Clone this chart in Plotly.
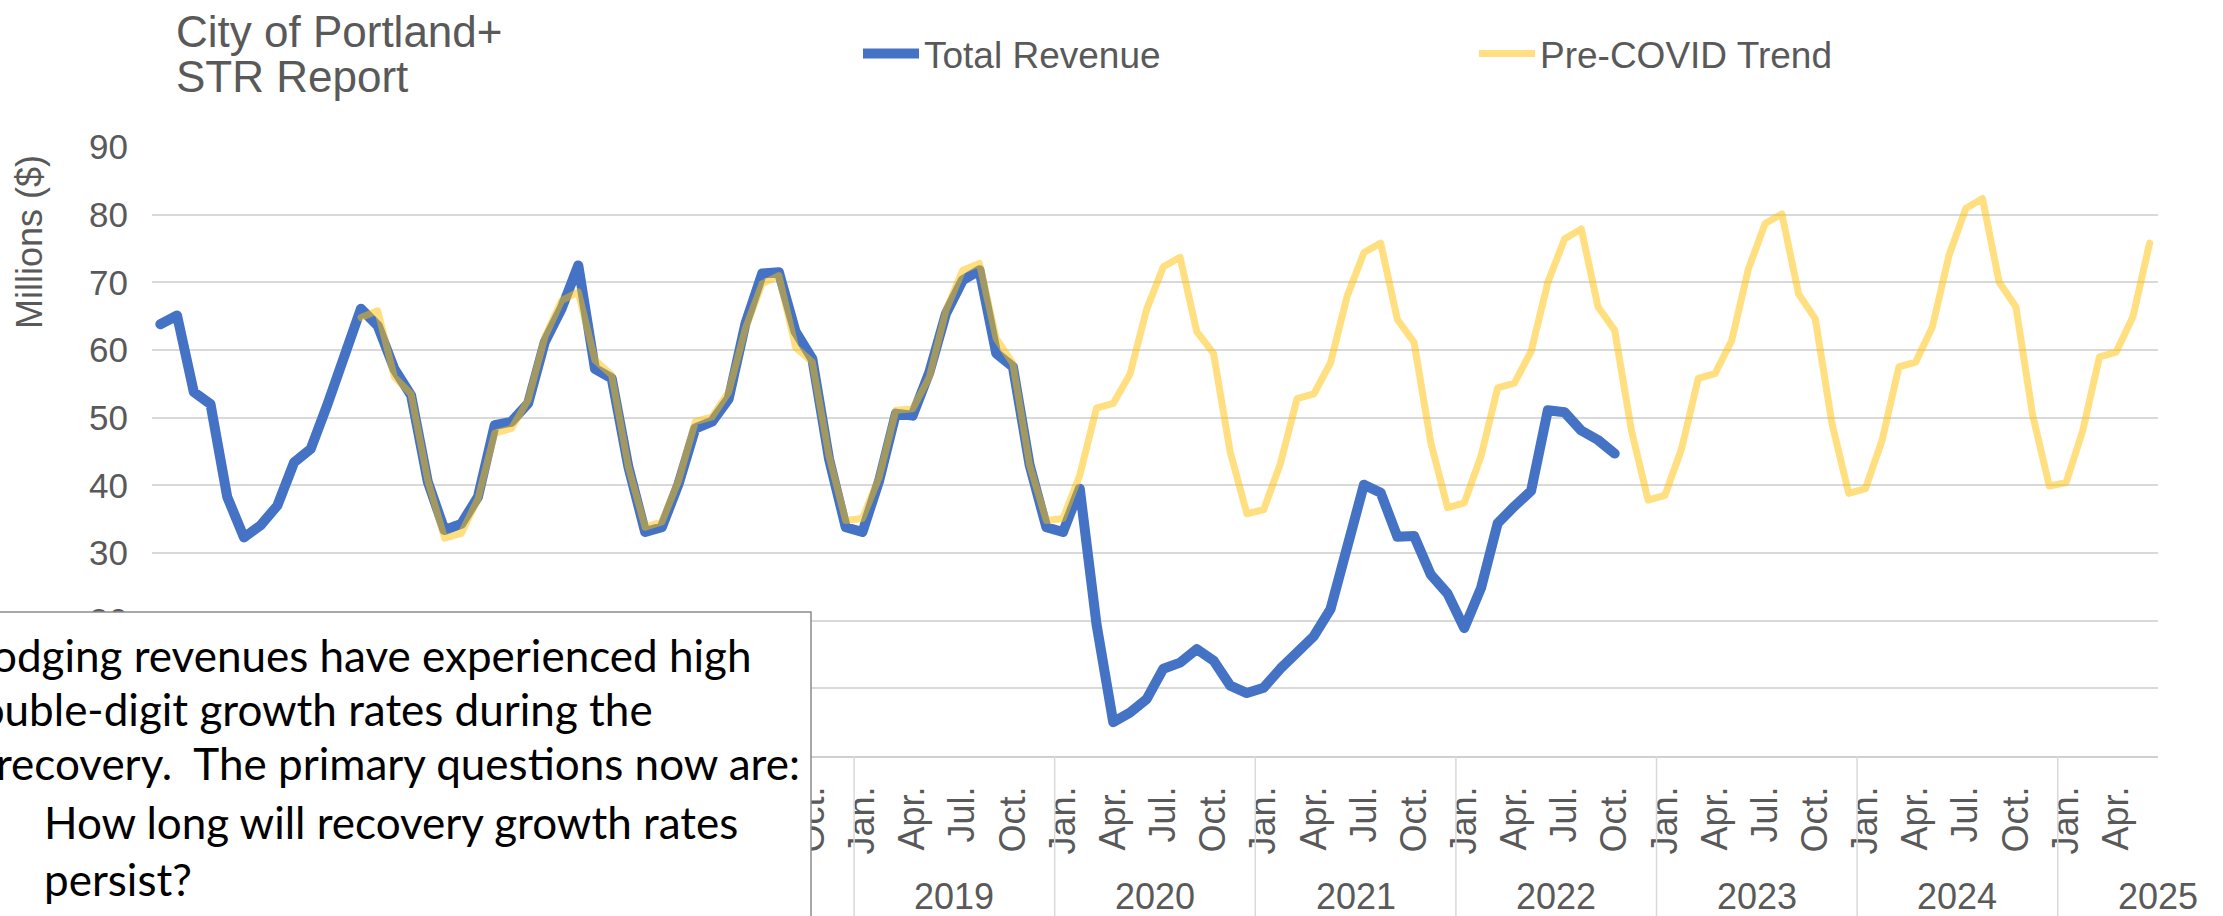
import pandas as pd
import plotly.graph_objects as go

# ---------------- data ----------------
months = [p.strftime("%Y-%m") for p in pd.period_range("2015-07", "2025-06", freq="M")]
month_short = {1: "Jan.", 4: "Apr.", 7: "Jul.", 10: "Oct."}

total_revenue = [
    63.8, 65.1, 53.8, 52.0, 38.3, 32.3,                                  # 2015 Jul-Dec
    34.1, 37.0, 43.4, 45.4, 52.0, 59.0, 66.1, 63.6, 57.2, 53.3, 40.5, 33.4,  # 2016
    34.3, 38.3, 48.9, 49.4, 52.1, 61.2, 66.1, 72.5, 57.2, 55.8, 42.7, 33.1,  # 2017
    33.8, 40.2, 48.4, 49.4, 52.8, 63.9, 71.3, 71.5, 62.7, 58.7, 43.9, 33.8,  # 2018
    33.1, 40.7, 50.6, 50.3, 56.7, 65.4, 70.3, 71.8, 59.5, 57.5, 43.0, 33.8,  # 2019
    33.1, 39.5, 19.5, 5.0, 6.4, 8.4, 12.9, 13.8, 15.8, 14.1, 10.4, 9.3,      # 2020
    10.1, 12.9, 15.2, 17.7, 21.7, 31.6, 40.1, 38.9, 32.4, 32.5, 26.8, 24.0,  # 2021
    18.9, 24.8, 34.4, 36.9, 39.2, 51.1, 50.8, 48.1, 46.7, 44.7,              # 2022 Jan-Oct
]

pre_covid_trend = [
    64.8, 65.8, 56.0, 53.5, 40.7, 32.2,                                  # 2016 Jul-Dec
    32.9, 38.0, 47.7, 48.4, 52.6, 61.9, 67.3, 68.6, 58.5, 56.3, 42.7, 33.8,  # 2017
    34.6, 40.7, 49.4, 50.1, 53.8, 63.2, 69.8, 71.0, 60.4, 58.2, 44.3, 34.8,  # 2018
    35.1, 41.2, 51.1, 51.3, 56.0, 65.9, 71.8, 72.8, 61.7, 58.0, 43.0, 34.8,  # 2019
    35.1, 41.5, 51.4, 52.1, 56.4, 66.0, 72.3, 73.7, 62.7, 59.5, 44.9, 35.8,  # 2020
    36.4, 43.2, 52.8, 53.5, 58.1, 68.0, 74.4, 75.8, 64.5, 61.1, 46.3, 36.7,  # 2021
    37.4, 44.3, 54.4, 55.1, 59.8, 70.0, 76.4, 77.9, 66.4, 62.9, 48.1, 37.8,  # 2022
    38.5, 45.4, 55.8, 56.5, 61.4, 72.0, 78.7, 80.1, 68.3, 64.6, 49.1, 38.8,  # 2023
    39.5, 46.7, 57.5, 58.2, 63.4, 74.0, 80.9, 82.4, 70.0, 66.4, 50.4, 39.9,  # 2024
    40.4, 48.1, 59.0, 59.7, 64.9, 75.8,                                  # 2025 Jan-Jun
]
trend_start = "2016-07"

visible_years = ["2019", "2020", "2021", "2022", "2023", "2024", "2025"]

title_lines = ["City of Portland+", "STR Report"]
note_lines = [
    "Lodging revenues have experienced high",
    "double-digit growth rates during the",
    "recovery.\u00a0 The primary questions now are:",
    "How long will recovery growth rates",
    "persist?",
]

# ---------------- layout helpers ----------------
W, H = 2223, 916
ML, MR, MT, MB = 152, 65, 147, 160
PW, PH = W - ML - MR, H - MT - MB
def px(x):
    return (x - ML) / PW
def py(y):
    return (H - MB - y) / PH

GREY = "#595959"
AX_FONT = "Liberation Sans, Arial, sans-serif"

ts = months.index(trend_start)

fig = go.Figure()
fig.add_trace(go.Scatter(
    x=months[:len(total_revenue)], y=total_revenue, name="Total Revenue",
    mode="lines", line=dict(color="#4472C4", width=10),
))
fig.add_trace(go.Scatter(
    x=months[ts:ts + len(pre_covid_trend)], y=pre_covid_trend, name="Pre-COVID Trend",
    mode="lines", line=dict(color="rgba(255,192,0,0.5)", width=7),
))

tickvals = [m for m in months if int(m[5:]) in month_short]
ticktext = [month_short[int(m[5:])] for m in tickvals]

fig.update_xaxes(
    type="category", categoryorder="array", categoryarray=months,
    range=[-0.5, len(months) - 0.5],
    tickmode="array", tickvals=tickvals, ticktext=ticktext, tickangle=-90,
    tickfont=dict(family=AX_FONT, size=36, color=GREY),
    ticklabelstandoff=14, ticks="",
    showgrid=False, showline=True, linecolor="#D0D0D0", linewidth=2,
    zeroline=False, automargin=False,
)
fig.update_yaxes(
    range=[0, 90], tickmode="array", tickvals=list(range(0, 91, 10)),
    tickfont=dict(family=AX_FONT, size=35, color=GREY),
    ticklabelstandoff=23, ticks="",
    showgrid=True, gridcolor="#D9D9D9", gridwidth=2,
    showline=False, zeroline=False, automargin=False,
)

shapes = []
annotations = []

# year separators + year labels
for yr in visible_years:
    jan = months.index(f"{yr}-01")
    shapes.append(dict(type="line", xref="x", yref="paper", x0=jan - 0.5, x1=jan - 0.5,
                       y0=0, y1=py(H + 10), line=dict(color="#D9D9D9", width=1.5), layer="above"))
    annotations.append(dict(xref="x", yref="paper", x=jan + 5.5, y=py(896), text=yr,
                            showarrow=False, xanchor="center", yanchor="middle",
                            font=dict(family=AX_FONT, size=36, color=GREY)))

# text box (covers lower left of chart)
shapes.append(dict(type="rect", xref="paper", yref="paper",
                   x0=px(-20), x1=px(811), y0=py(H + 20), y1=py(612),
                   fillcolor="white", line=dict(color="#8C8C8C", width=1.5), layer="above"))

NOTE_FONT = dict(family="Lato, Calibri, sans-serif", size=44, color="black")
note_pos = [(753, 655, "right"), (655, 709, "right"), (802, 763, "right"),
            (42, 822, "left"), (42, 879, "left")]
for line, (xx, yy, anc) in zip(note_lines, note_pos):
    annotations.append(dict(xref="paper", yref="paper", x=px(xx), y=py(yy), text=line,
                            showarrow=False, xanchor=anc, yanchor="middle", font=NOTE_FONT))

# title
for line, yy in zip(title_lines, [32, 77]):
    annotations.append(dict(xref="paper", yref="paper", x=px(174), y=py(yy), text=line,
                            showarrow=False, xanchor="left", yanchor="middle",
                            font=dict(family=AX_FONT, size=44, color=GREY)))

# y axis title
annotations.append(dict(xref="paper", yref="paper", x=px(29), y=py(242), text="Millions ($)",
                        textangle=-90, showarrow=False, xanchor="center", yanchor="middle",
                        font=dict(family=AX_FONT, size=36, color=GREY)))

fig.update_layout(
    width=W, height=H,
    margin=dict(l=ML, r=MR, t=MT, b=MB, autoexpand=False),
    paper_bgcolor="white", plot_bgcolor="white",
    shapes=shapes, annotations=annotations,
    showlegend=True,
    legend=dict(orientation="h", x=px(858), y=py(54), xanchor="left", yanchor="middle",
                font=dict(family=AX_FONT, size=37, color=GREY),
                itemwidth=56, entrywidth=545, bgcolor="rgba(0,0,0,0)", traceorder="normal"),
)

post = """
var s=document.createElement('style');
s.innerHTML='html,body{margin:0;padding:0;overflow:hidden;} .scatterlayer .js-line{stroke-linejoin:round;stroke-linecap:round;}';
document.head.appendChild(s);
"""
fig.write_html("out.html", post_script=post, config={"displayModeBar": False})
